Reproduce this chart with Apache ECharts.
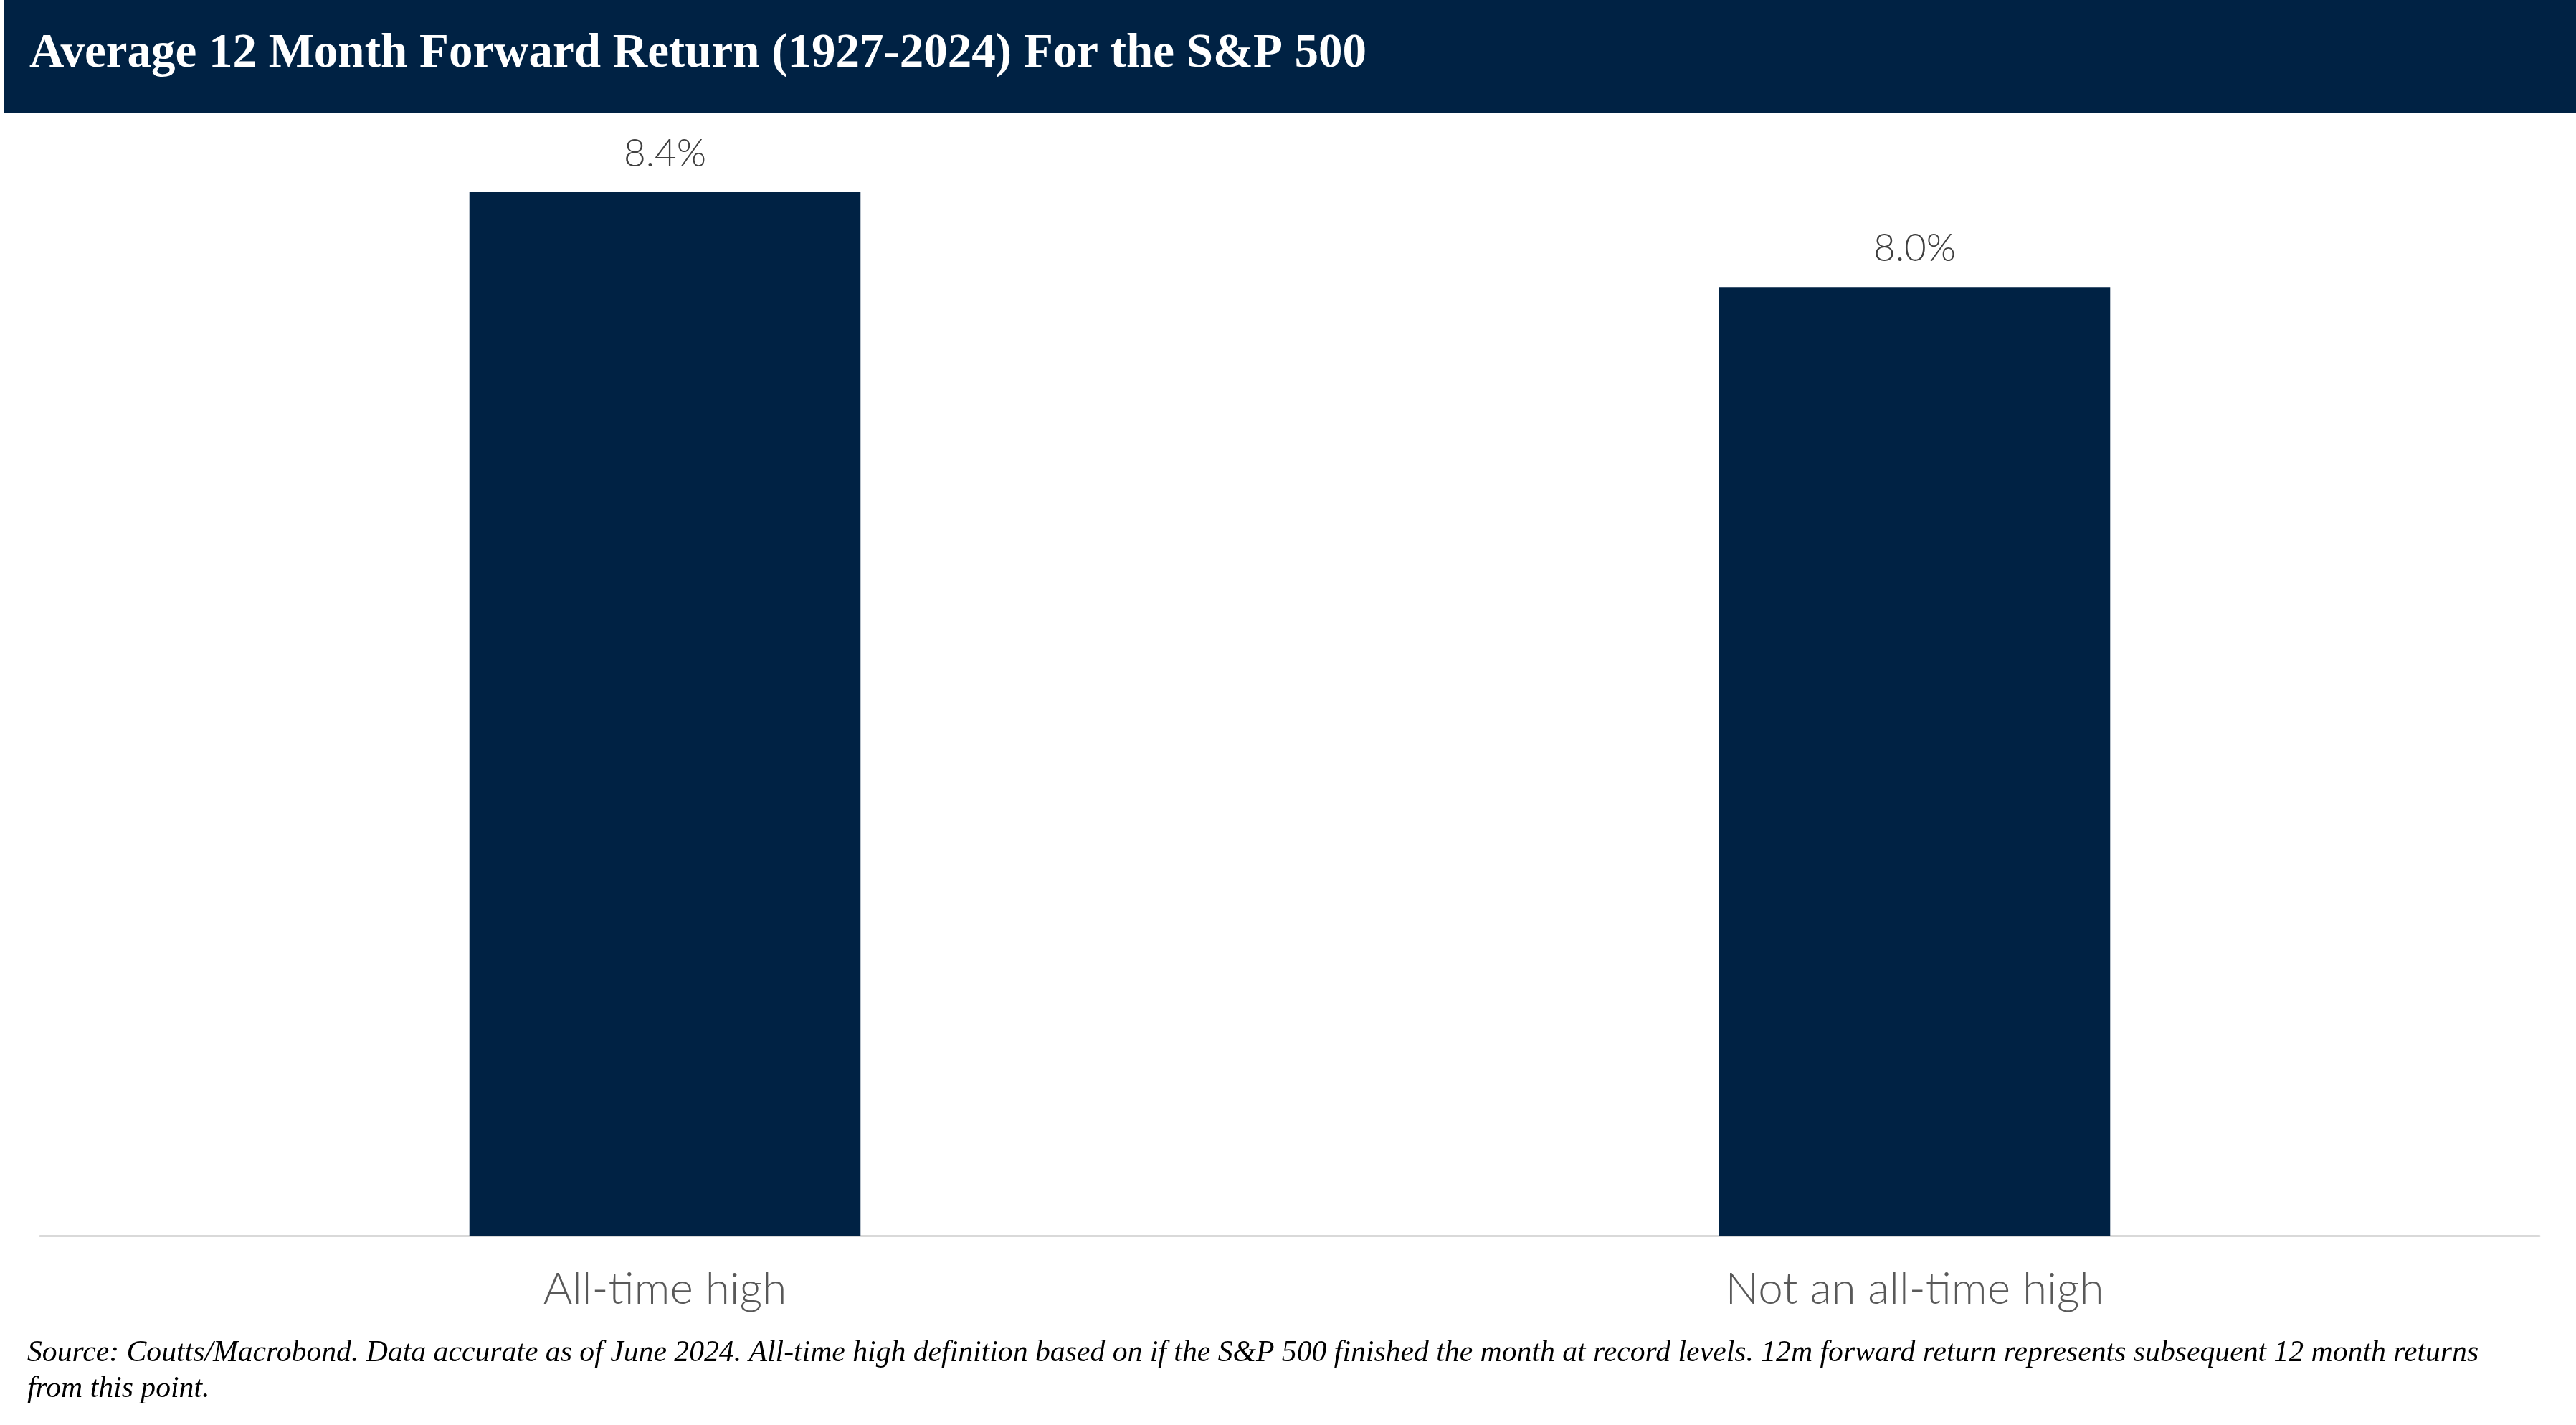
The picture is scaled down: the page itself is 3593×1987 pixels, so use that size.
<!DOCTYPE html>
<html>
<head>
<meta charset="utf-8">
<script src="https://cdn.jsdelivr.net/npm/echarts@6/dist/echarts.min.js"></script>
<style>
html,body{margin:0;padding:0;background:#fff;}
#c{width:3593px;height:1987px;}
</style>
</head>
<body>
<div id="c"></div>
<script>
const categories = ["All-time high", "Not an all-time high"];
const values = [8.4, 8.0];
const titleText = "Average 12 Month Forward Return (1927-2024) For the S&P 500";
const footnoteLines = [
  "Source: Coutts/Macrobond. Data accurate as of June 2024. All-time high definition based on if the S&P 500 finished the month at record levels. 12m forward return represents subsequent 12 month returns",
  "from this point."
];

const navy = "#002244";
const chart = echarts.init(document.getElementById('c'), null, {renderer: 'canvas'});
chart.setOption({
  backgroundColor: '#ffffff',
  animation: false,
  grid: {left: 56, right: 51, top: 268, bottom: 264, containLabel: false},
  xAxis: {
    type: 'category',
    data: categories,
    axisLine: {show: true, lineStyle: {color: '#d9d9d9', width: 3}},
    axisTick: {show: false},
    axisLabel: {
      margin: 44,
      fontFamily: 'Lato',
      fontWeight: 300,
      fontSize: 62,
      color: '#595959'
    }
  },
  yAxis: {
    type: 'value',
    min: 4,
    max: 8.4,
    show: false,
    splitLine: {show: false}
  },
  series: [{
    type: 'bar',
    data: values,
    barWidth: '31.3%',
    itemStyle: {color: navy},
    label: {
      show: true,
      position: 'top',
      distance: 27,
      fontFamily: 'Lato',
      fontWeight: 300,
      fontSize: 53,
      color: '#404040',
      formatter: p => p.value.toFixed(1) + '%'
    }
  }],
  graphic: [
    {
      type: 'rect',
      left: 5, top: 0,
      shape: {width: 3588, height: 157},
      style: {fill: navy},
      silent: true
    },
    {
      type: 'text',
      left: 41, top: 42,
      style: {
        text: titleText,
        fill: '#ffffff',
        font: 'bold 67px "Liberation Serif"'
      }
    },
    {
      type: 'text',
      left: 38, top: 1862,
      style: {
        text: footnoteLines.join('\n'),
        fill: '#000000',
        font: 'italic 41.7px "Liberation Serif"',
        lineHeight: 50
      }
    }
  ]
});
</script>
</body>
</html>
